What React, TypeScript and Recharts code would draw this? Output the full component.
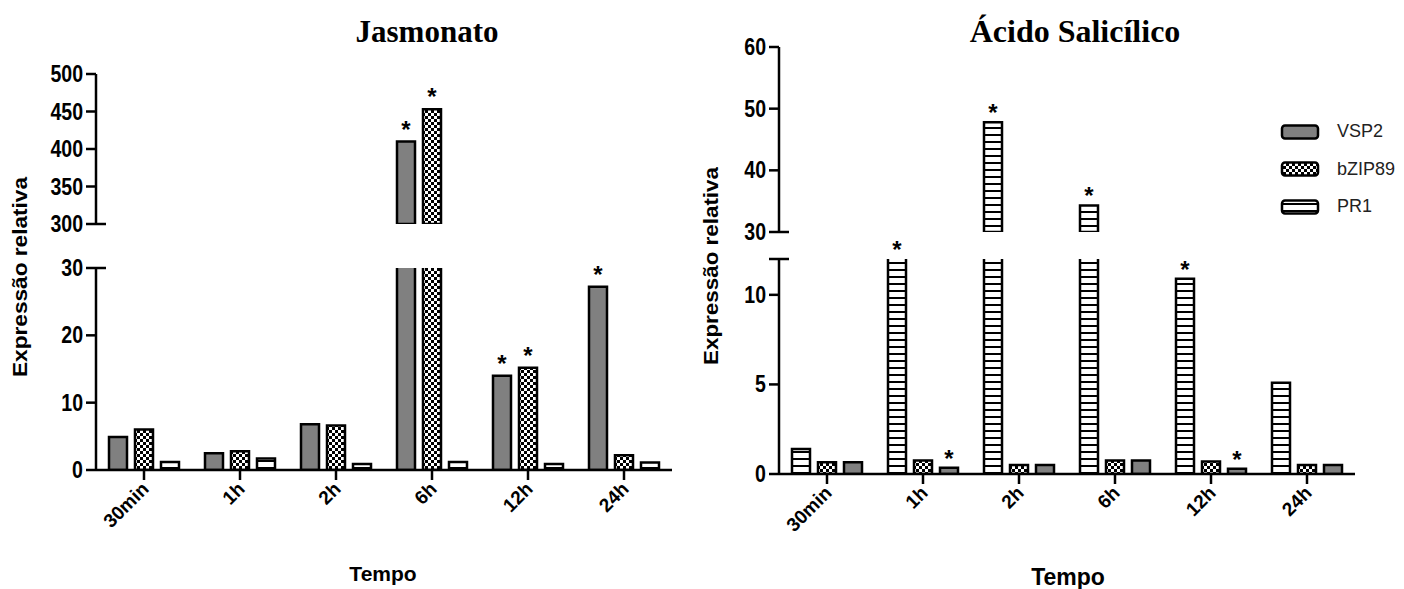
import React from 'react';
import { BarChart, Bar, XAxis, YAxis, LabelList, Legend } from 'recharts';

const times = ['30min', '1h', '2h', '6h', '12h', '24h'];

// Jasmonato
const jaVSP2 = [4.9, 2.5, 6.8, 410, 14.0, 27.2];
const jaBZIP89 = [6.0, 2.8, 6.6, 453, 15.2, 2.2];
const jaPR1 = [1.2, 1.7, 0.9, 1.2, 0.9, 1.1];
const jaSigVSP2 = [false, false, false, true, true, true];
const jaSigBZIP89 = [false, false, false, true, true, false];
const jaSigPR1 = [false, false, false, false, false, false];
const jaLowTicks = [0, 10, 20, 30];
const jaHighTicks = [300, 350, 400, 450, 500];

// Ácido Salicílico
const saPR1 = [1.4, 18, 47.8, 34.3, 10.9, 5.1];
const saBZIP89 = [0.65, 0.75, 0.5, 0.75, 0.7, 0.5];
const saVSP2 = [0.65, 0.35, 0.5, 0.75, 0.3, 0.5];
const saSigPR1 = [false, true, true, true, true, false];
const saSigBZIP89 = [false, false, false, false, false, false];
const saSigVSP2 = [false, true, false, false, true, false];
const saLowTicks = [0, 5, 10, 12];
const saHighTicks = [30, 40, 50, 60];

const legendOrder = ['VSP2', 'bZIP89', 'PR1'];

const SANS = "'Liberation Sans', Arial, sans-serif";
const SERIF = "'Liberation Serif', 'Times New Roman', serif";
const AXIS = { stroke: '#000', strokeWidth: 2.5 };
const YW = 70;
const MT = 30;

const FILLS: Record<string, string> = {
    VSP2: '#808080',
    bZIP89: 'url(#checker)',
    PR1: 'url(#stripes)',
};

const Patterns = () => (
    <defs>
        <pattern id="checker" width="6" height="6" patternUnits="userSpaceOnUse">
            <rect width="6" height="6" fill="#000" />
            <rect x="0" y="0" width="3" height="3" fill="#fff" />
            <rect x="3" y="3" width="3" height="3" fill="#fff" />
        </pattern>
        <pattern id="stripes" width="7" height="7" patternUnits="userSpaceOnUse">
            <rect width="7" height="7" fill="#fff" />
            <rect x="0" y="5" width="7" height="2" fill="#000" />
        </pattern>
    </defs>
);

const YTick = (props: any) => {
    const { x, y, payload, cap, blank } = props;
    return (
        <g>
            {payload.value === cap && (
                <line x1={x + 13} x2={x + 23} y1={y} y2={y} stroke="#000" strokeWidth={2.5} />
            )}
            {!blank.includes(payload.value) && (
                <g transform={`translate(${x} ${y + 8}) scale(0.85 1)`}>
                    <text x={0} y={0} textAnchor="end" fontFamily={SANS} fontWeight="bold" fontSize={23} fill="#000">
                        {payload.value}
                    </text>
                </g>
            )}
        </g>
    );
};

const XTick = (props: any) => {
    const { x, y, payload } = props;
    const ax = x + 6;
    const ay = y + 8;
    return (
        <text x={ax} y={ay} textAnchor="end" transform={`rotate(-45 ${ax} ${ay})`}
            fontFamily={SANS} fontWeight="bold" fontSize={19} fill="#000">
            {payload.value}
        </text>
    );
};

const StarLabel = (lp: any) => {
    const { x, y, width, value, lift } = lp;
    if (value !== '*') return null;
    const top = Math.max(Number(y), MT);
    return (
        <text x={Number(x) + Number(width) / 2} y={top - lift} textAnchor="middle"
            fontFamily={SANS} fontWeight="bold" fontSize={24} fill="#000">*</text>
    );
};

const LegendBox = (props: any) => {
    const items = [...(props.payload || [])].sort(
        (a: any, b: any) => legendOrder.indexOf(a.value) - legendOrder.indexOf(b.value)
    );
    return (
        <div>
            {items.map((it: any) => (
                <div key={it.value} style={{ display: 'flex', alignItems: 'center', height: 37.5 }}>
                    <svg width={40} height={18}>
                        <rect x={2} y={2.5} width={36} height={13} rx={3} fill={FILLS[it.value]} stroke="#000" strokeWidth={2.5} />
                    </svg>
                    <span style={{ marginLeft: 17, fontFamily: SANS, fontSize: 18, color: '#222' }}>{it.value}</span>
                </div>
            ))}
        </div>
    );
};

type Series = { key: string; values: number[]; sig: boolean[] };

function Segment(p: {
    plotLeft: number; plotTop: number; plotW: number; plotH: number;
    series: Series[]; domain: [number, number]; ticks: number[];
    cap: number; blank: number[]; upper: boolean; breakAt: number;
    showX: boolean; lift: number; legend?: boolean; rightPad?: number;
}) {
    const rightPad = p.rightPad ?? 10;
    const bottom = p.showX ? 0 : 16;
    const rows = times.map((time, i) => {
        const row: Record<string, any> = { time };
        p.series.forEach((s) => {
            const v = s.values[i];
            row[s.key] = p.upper && v < p.domain[0] ? null : v;
            // the star belongs to the segment where the bar ends
            const here = p.upper ? v >= p.breakAt : v < p.breakAt;
            row[s.key + 'Star'] = s.sig[i] && here ? '*' : '';
        });
        return row;
    });
    return (
        <div style={{ position: 'absolute', left: p.plotLeft - YW, top: p.plotTop - MT }}>
            <BarChart width={YW + p.plotW + rightPad} height={MT + p.plotH + (p.showX ? 70 : bottom)} data={rows}
                margin={{ top: MT, right: rightPad, left: 0, bottom }}
                barSize={18} barGap={8}>
                <XAxis dataKey="time" hide={!p.showX} axisLine={AXIS} tickLine={AXIS} tickSize={10}
                    height={70} interval={0} tick={<XTick />} />
                <YAxis width={YW} domain={p.domain} ticks={p.ticks} allowDataOverflow interval={0}
                    axisLine={AXIS} tickLine={AXIS} tickSize={10} tickMargin={3}
                    tick={(tp: any) => <YTick {...tp} cap={p.cap} blank={p.blank} />} />
                {p.series.map((s) => (
                    <Bar key={s.key} dataKey={s.key} name={s.key} fill={FILLS[s.key]} stroke="#000"
                        strokeWidth={2.5} isAnimationActive={false}>
                        <LabelList dataKey={s.key + 'Star'} content={(lp: any) => <StarLabel {...lp} lift={p.lift} />} />
                    </Bar>
                ))}
                {p.legend && (
                    <Legend layout="vertical" align="center" verticalAlign="middle" content={<LegendBox />}
                        wrapperStyle={{ left: 571, top: 96, width: 140, height: 120 }} />
                )}
            </BarChart>
        </div>
    );
}

const jaSeries: Series[] = [
    { key: 'VSP2', values: jaVSP2, sig: jaSigVSP2 },
    { key: 'bZIP89', values: jaBZIP89, sig: jaSigBZIP89 },
    { key: 'PR1', values: jaPR1, sig: jaSigPR1 },
];

const saSeries: Series[] = [
    { key: 'PR1', values: saPR1, sig: saSigPR1 },
    { key: 'bZIP89', values: saBZIP89, sig: saSigBZIP89 },
    { key: 'VSP2', values: saVSP2, sig: saSigVSP2 },
];

export default function App() {
    return (
        <div style={{ position: 'absolute', left: 0, top: 0, width: 1404, height: 589, background: '#fff' }}>
            <svg width={1404} height={589} style={{ position: 'absolute', left: 0, top: 0, pointerEvents: 'none' }}>
                <Patterns />
                <text x={427} y={42} textAnchor="middle" fontFamily={SERIF} fontWeight="bold" fontSize={31}>Jasmonato</text>
                <text x={1075} y={42} textAnchor="middle" fontFamily={SERIF} fontWeight="bold" fontSize={32}>Ácido Salicílico</text>
                <text x={27} y={277} textAnchor="middle" transform="rotate(-90 27 277)" fontFamily={SANS} fontWeight="bold" fontSize={20} textLength={200} lengthAdjust="spacingAndGlyphs">Expressão relativa</text>
                <text x={718} y={266} textAnchor="middle" transform="rotate(-90 718 266)" fontFamily={SANS} fontWeight="bold" fontSize={20} textLength={198} lengthAdjust="spacingAndGlyphs">Expressão relativa</text>
                <text x={383} y={581} textAnchor="middle" fontFamily={SANS} fontWeight="bold" fontSize={21}>Tempo</text>
                <text x={1068} y={585} textAnchor="middle" fontFamily={SANS} fontWeight="bold" fontSize={23}>Tempo</text>
            </svg>
            <Segment plotLeft={96} plotTop={74} plotW={576} plotH={150} series={jaSeries}
                domain={[300, 500]} ticks={jaHighTicks} cap={300} blank={[]} upper breakAt={300}
                showX={false} lift={4} />
            <Segment plotLeft={96} plotTop={268} plotW={576} plotH={202} series={jaSeries}
                domain={[0, 30]} ticks={jaLowTicks} cap={30} blank={[]} upper={false} breakAt={300}
                showX lift={4} />
            <Segment plotLeft={779} plotTop={47} plotW={576} plotH={185} series={saSeries}
                domain={[30, 60]} ticks={saHighTicks} cap={30} blank={[]} upper breakAt={30}
                showX={false} lift={1} legend rightPad={60} />
            <Segment plotLeft={779} plotTop={259} plotW={576} plotH={215} series={saSeries}
                domain={[0, 12]} ticks={saLowTicks} cap={12} blank={[12]} upper={false} breakAt={30}
                showX lift={1} />
        </div>
    );
}
